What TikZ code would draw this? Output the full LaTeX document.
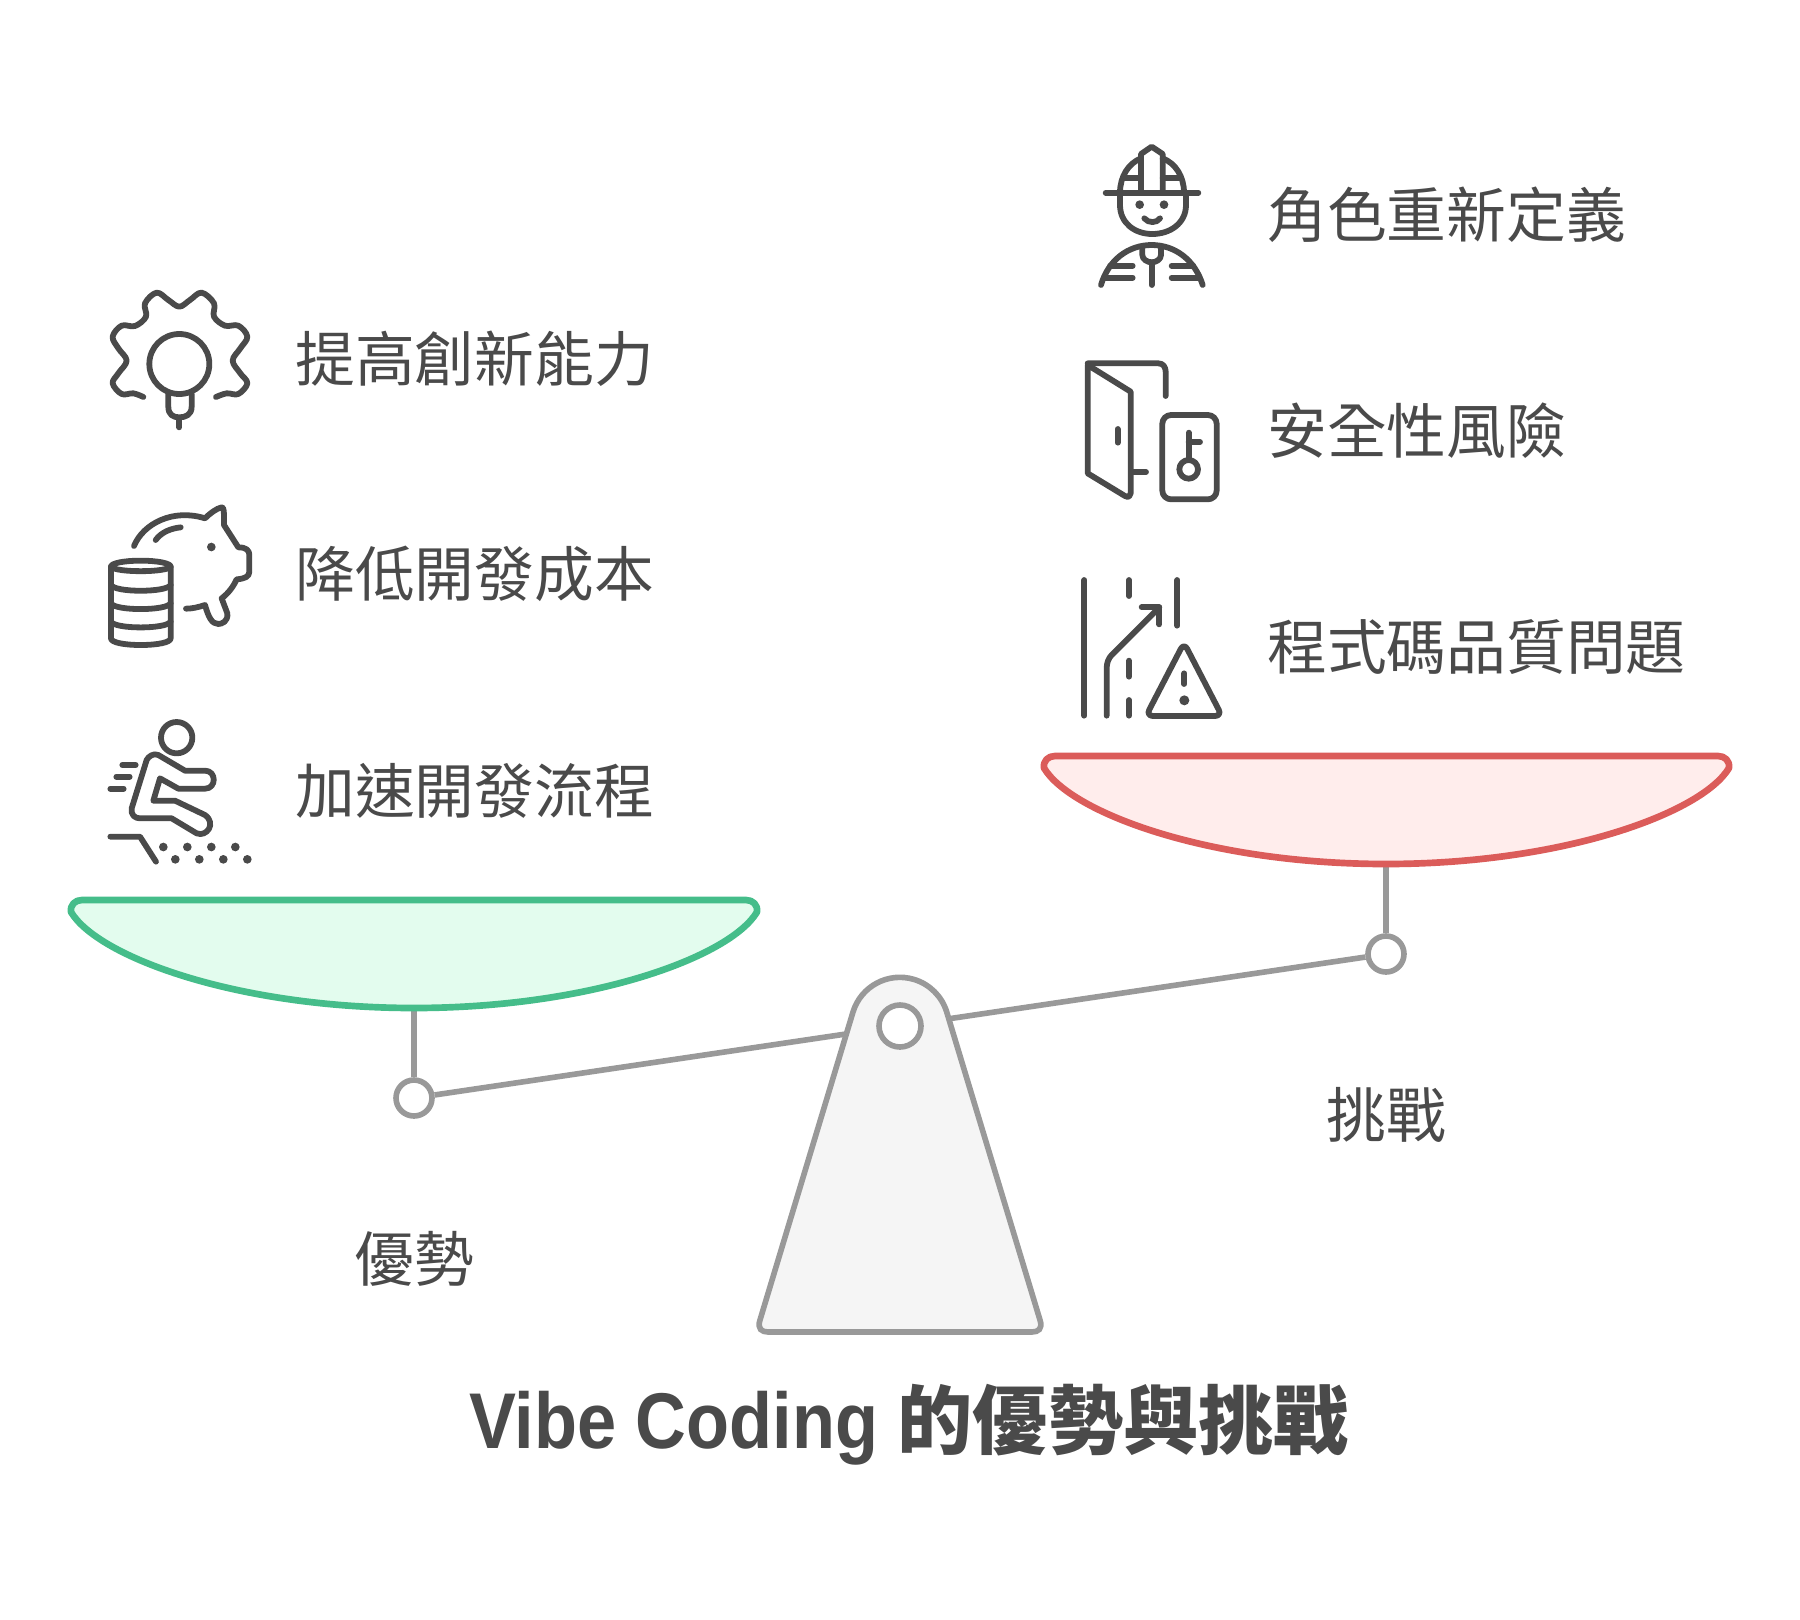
\documentclass[tikz,border=0pt]{standalone}
\usepackage{fontspec}
\newfontfamily\cjkfont{Noto Sans CJK TC}
\newfontfamily\latinfont[FakeStretch=0.89]{Liberation Sans}
\definecolor{ink}{HTML}{4A4A4A}
\definecolor{beamgray}{HTML}{999999}
\definecolor{pangreen}{HTML}{45BD8A}
\definecolor{panmint}{HTML}{E3FCEE}
\definecolor{panred}{HTML}{DB5C5A}
\definecolor{panrose}{HTML}{FFEDEC}
\definecolor{stand}{HTML}{F5F5F5}

\begin{document}
\begin{tikzpicture}[x=.02cm,y=-.02cm,
    lbl/.style={anchor=west,inner sep=0pt,text=ink,font=\cjkfont\fontsize{34}{40}\selectfont},
    sidelbl/.style={inner sep=0pt,text=ink,font=\cjkfont\fontsize{34}{40}\selectfont},
    pin/.style={circle,draw=beamgray,fill=white,line width=3.2pt,inner sep=0pt,minimum size=.72cm},
    bar/.style={draw=beamgray,line width=3.2pt},
    icon/.style={draw=ink,line width=3.3pt,line cap=round,line join=round},
    dot/.style={fill=ink,draw=none}]
  \useasboundingbox (0,0) rectangle (1800,1620);
  \coordinate (leftbot) at (414,1008);
  \coordinate (rightbot) at (1386,864);
  \node[pin] (leftpin) at (414,1098) {};
  \node[pin] (rightpin) at (1386,954) {};
  \draw[bar] (leftpin) -- (rightpin); %beam
  \draw[bar] (leftbot) -- (leftpin);
  \draw[bar] (rightbot) -- (rightpin);
  \draw[bar,fill=stand] (853,1012) arc[start angle=197,end angle=343,radius=49]
    -- (1040,1320) .. controls (1043,1329) and (1038,1332) .. (1032,1332)
    -- (768,1332) .. controls (762,1332) and (757,1329) .. (760,1320) -- cycle; %stand
  \node[pin,minimum size=.84cm] (pivot) at (900,1026) {};
  % pans
  \draw[draw=pangreen,fill=panmint,line width=3.8pt,line join=round]
    (71,912) .. controls (70,905) and (75,900) .. (82,900) -- (746,900)
    .. controls (753,900) and (758,905) .. (757,912)
    .. controls (730,957) and (591,1008) .. (414,1008)
    .. controls (237,1008) and (98,957) .. (71,912) -- cycle;
  \draw[draw=panred,fill=panrose,line width=3.8pt,line join=round]
    (1044,768) .. controls (1043,761) and (1048,756) .. (1055,756) -- (1718,756)
    .. controls (1725,756) and (1730,761) .. (1729,768)
    .. controls (1702,813) and (1563,864) .. (1386,864)
    .. controls (1209,864) and (1071,813) .. (1044,768) -- cycle;
  % left labels
  \node[lbl] (idea) at (295,359) {提高創新能力};
  \node[lbl] (cost) at (295,574) {降低開發成本};
  \node[lbl] (speed) at (295,791) {加速開發流程};
  % right labels
  \node[lbl] (role) at (1267,215) {角色重新定義};
  \node[lbl] (safe) at (1267,431) {安全性風險};
  \node[lbl] (code) at (1267,647) {程式碼品質問題};
  \node[sidelbl] (pros) at (414,1259) {優勢};
  \node[sidelbl] (cons) at (1386,1115) {挑戰};
  \node[inner sep=0pt,text=ink] (title) at (909,1425)
    {\bfseries\fontsize{45}{50}\latinfont Vibe Coding \fontsize{42.8}{50}\cjkfont 的優勢與挑戰};
  \begin{scope}[shift={(90,270)},scale=1/3] %gear
    \draw[icon] plot[smooth,tension=.6] coordinates {(160,381) (130,370) (95,372) (68,340) (85,310)
      (110,272) (85,235) (68,200) (95,167) (135,168) (168,140) (165,100) (200,68) (235,90)
      (268,110) (300,90) (335,68) (372,100) (372,140) (405,167) (445,167) (472,200) (451,235)
      (428,272) (451,310) (472,340) (445,372) (410,370) (378,381)};
    \draw[icon] (268,282) circle (90);
    \draw[icon] (235,372) -- (235,410) .. controls (235,435) and (250,442) .. (268,442)
      .. controls (286,442) and (305,435) .. (305,410) -- (305,372);
    \draw[icon] (268,445) -- (268,472);
  \end{scope}
  \begin{scope}[shift={(90,270)},scale=1/3] %piggy
    \draw[icon] (132,828) .. controls (160,760) and (250,715) .. (345,745)
      .. controls (360,730) and (380,715) .. (395,712) .. controls (402,712) and (402,720) .. (402,765)
      -- (445,832) .. controls (470,832) and (478,842) .. (478,855) -- (478,905)
      .. controls (478,920) and (465,926) .. (440,928) .. controls (430,950) and (415,970) .. (395,985)
      -- (412,1030) .. controls (415,1055) and (395,1062) .. (385,1062)
      .. controls (365,1062) and (355,1040) .. (345,1005) .. controls (325,1012) and (305,1016) .. (288,1016);
    \draw[icon] (197,810) .. controls (215,785) and (245,775) .. (272,772);
    \fill[dot] (364,831) circle (13);
    \draw[icon] (152,872) .. controls (100,872) and (63,880) .. (63,890) -- (63,1105)
      .. controls (63,1117) and (100,1125) .. (152,1125) .. controls (204,1125) and (242,1117) .. (242,1105)
      -- (242,890) .. controls (242,880) and (204,872) .. (152,872) -- cycle;
    \draw[icon] (63,890) .. controls (75,908) and (229,908) .. (242,890);
    \draw[icon] (63,945) .. controls (75,968) and (229,968) .. (242,945);
    \draw[icon] (63,1000) .. controls (75,1023) and (229,1023) .. (242,1000);
    \draw[icon] (63,1055) .. controls (75,1078) and (229,1078) .. (242,1055);
  \end{scope}
  \begin{scope}[shift={(90,700)},scale=1/3] %runner
    \draw[icon] (260,113) circle (47);
    \draw[icon] (190,302) -- (210,235) -- (265,266) -- (345,266)
      .. controls (380,266) and (380,212) .. (345,212) -- (285,212) -- (205,165)
      .. controls (190,158) and (175,170) .. (170,180) -- (125,325)
      .. controls (122,345) and (135,355) .. (150,355) -- (245,355) -- (320,400)
      .. controls (350,412) and (380,370) .. (345,345) -- (255,302) -- cycle;
    \draw[icon] (97,195) -- (137,195);
    \draw[icon] (79,230) -- (119,230);
    \draw[icon] (61,266) -- (101,266);
    \draw[icon] (61,410) -- (150,410) -- (198,485);
    \fill[dot] (220,441) circle (13) (292,441) circle (13) (364,441) circle (13) (436,441) circle (13);
    \fill[dot] (256,478) circle (13) (328,478) circle (13) (400,478) circle (13) (472,478) circle (13);
  \end{scope}
  \begin{scope}[shift={(1060,130)},scale=1/3] %worker
    \draw[icon] (137,188) -- (415,188);
    \draw[icon] (243,185) -- (243,72) -- (275,50) -- (308,72) -- (308,185);
    \draw[icon] (180,188) .. controls (180,140) and (205,100) .. (243,85);
    \draw[icon] (372,188) .. controls (372,140) and (347,100) .. (308,85);
    \draw[icon] (190,145) -- (243,145);
    \draw[icon] (308,145) -- (360,145);
    \draw[icon] (180,188) -- (180,225) .. controls (180,280) and (225,312) .. (277,312)
      .. controls (330,312) and (378,280) .. (378,225) -- (378,188);
    \fill[dot] (239,224) circle (13) (312,224) circle (13);
    \draw[icon] (253,265) .. controls (265,280) and (290,280) .. (300,265);
    \draw[icon] (123,465) .. controls (145,390) and (205,345) .. (275,345)
      .. controls (345,345) and (405,390) .. (428,465);
    \draw[icon] (247,352) -- (247,375) .. controls (247,388) and (262,397) .. (275,397)
      .. controls (288,397) and (303,388) .. (303,375) -- (303,352);
    \draw[icon] (275,397) -- (275,465);
    \draw[icon] (150,407) -- (218,407);
    \draw[icon] (135,443) -- (218,443);
    \draw[icon] (335,407) -- (400,407);
    \draw[icon] (335,443) -- (415,443);
  \end{scope}
  \begin{scope}[shift={(1060,130)},scale=1/3] %door
    \draw[icon] (83,700) -- (295,700) .. controls (310,700) and (317,712) .. (317,725) -- (317,798);
    \draw[icon] (83,705) -- (83,1030) -- (195,1098) .. controls (205,1104) and (212,1098) .. (212,1090)
      -- (212,785) -- cycle;
    \draw[icon] (173,897) -- (173,938);
    \draw[icon] (220,1026) -- (258,1026);
    \draw[icon,rounded corners=5pt] (307,855) rectangle (470,1108);
    \draw[icon] (386,908) -- (386,985);
    \draw[icon] (386,936) -- (420,936);
    \draw[icon] (386,1018) circle (28);
  \end{scope}
  \begin{scope}[shift={(1060,560)},scale=1/3] %road
    \draw[icon] (73,60) -- (73,467);
    \draw[icon] (207,60) -- (207,108);
    \draw[icon] (207,302) -- (207,350);
    \draw[icon] (207,420) -- (207,467);
    \draw[icon] (352,60) -- (352,197);
    \draw[icon] (140,467) -- (140,325) .. controls (140,310) and (145,295) .. (155,285) -- (298,142);
    \draw[icon] (245,142) -- (298,142) -- (298,193);
    \draw[icon,rounded corners=4pt] (372,248) -- (486,468) -- (258,468) -- cycle;
    \draw[icon] (373,340) -- (373,372);
    \fill[dot] (373,421) circle (15);
  \end{scope}
\end{tikzpicture}
\end{document}
